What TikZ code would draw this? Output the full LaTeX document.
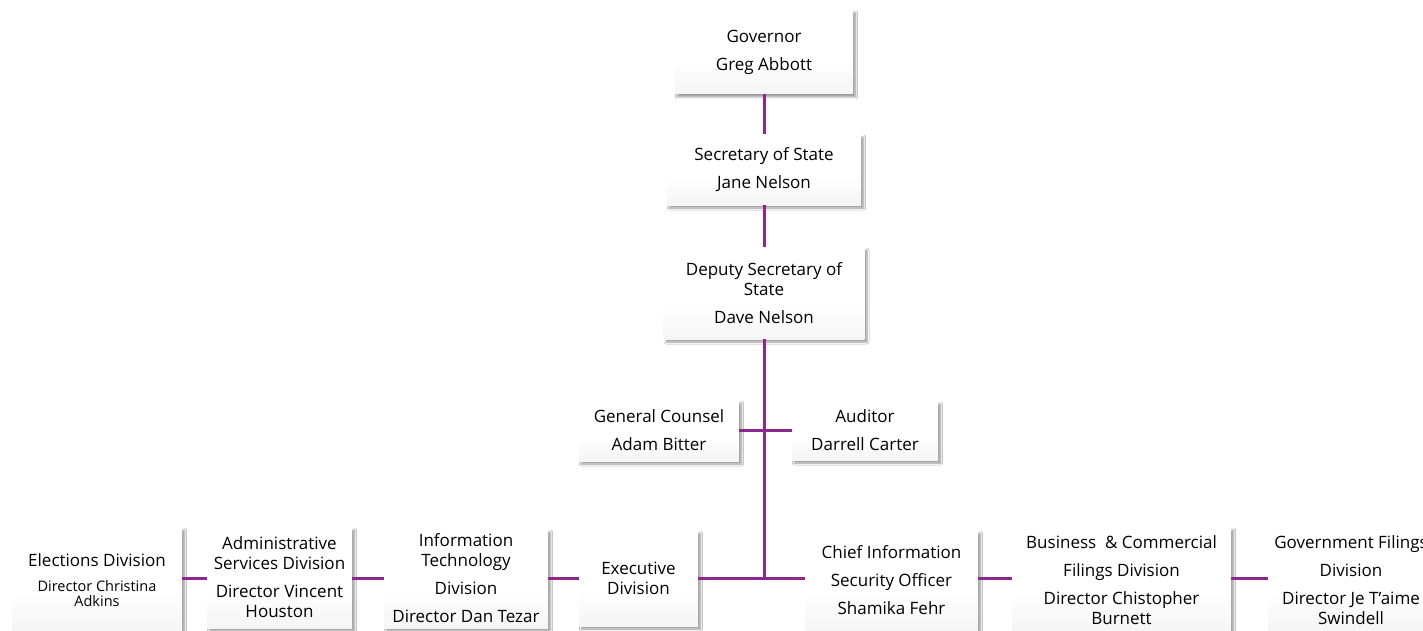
\documentclass[tikz,border=0pt]{standalone}
\usepackage{fontspec}
\setmainfont{Open Sans}
\usetikzlibrary{shadows.blur}
\definecolor{linecol}{RGB}{140,40,140}
\pgfdeclareverticalshading{boxshade}{100bp}{color(0bp)=(black!9); color(45bp)=(white); color(100bp)=(white)}
\tikzset{
  orgbox/.style={draw=none, shading=boxshade, inner sep=0pt, align=center,
    font=\fontsize{17}{20}\selectfont,
    blur shadow={shadow xshift=2.5pt, shadow yshift=-3pt, shadow blur steps=6, shadow opacity=40, shadow blur radius=2pt, shadow blur extra rounding=0pt}},
  smalltext/.style={font=\fontsize{15}{15}\selectfont},
  link/.style={draw=linecol, line width=3pt}
}
\begin{document}
\begin{tikzpicture}[x=1pt,y=-1pt]
\useasboundingbox (0,0) rectangle (1423,631);
\fill[white] (0,0) rectangle (1423,631);
\coordinate (j) at (764,578);
\path (764,52) node[orgbox, minimum width=178pt, minimum height=84pt] (gov) {Governor\\[8pt]Greg Abbott};
\path (764,169.5) node[orgbox, minimum width=194pt, minimum height=71pt] (sec) {Secretary of State\\[8pt]Jane Nelson};
\path (764,293) node[orgbox, minimum width=201pt, minimum height=92pt] (dep) {Deputy Secretary of\\State\\[8pt]Dave Nelson};
\path (659,430.5) node[orgbox, minimum width=160pt, minimum height=61pt] (gc) {General Counsel\\[8pt]Adam Bitter};
\path (865,430.5) node[orgbox, minimum width=146pt, minimum height=59pt] (aud) {Auditor\\[8pt]Darrell Carter};
\path (97,580) node[orgbox, minimum width=170pt, minimum height=106pt] (el) {Elections Division\\[5pt]{\fontsize{14.5}{15}\selectfont Director Christina}\\[-5pt]{\fontsize{14.5}{15}\selectfont Adkins}};
\path (279.5,577.5) node[orgbox, minimum width=145pt, minimum height=101pt] (adm) {Administrative\\Services Division\\[8pt]Director Vincent\\Houston};
\path (466,578.5) node[orgbox, minimum width=164pt, minimum height=99pt] (it) {Information\\Technology\\[8pt]Division\\[8pt]Director Dan Tezar};
\path (638.5,578) node[orgbox, minimum width=119pt, minimum height=96pt] (ex) {Executive\\Division};
\path (891.5,580.5) node[orgbox, minimum width=173pt, minimum height=101pt] (ciso) {Chief Information\\[8pt]Security Officer\\[8pt]Shamika Fehr};
\path (1121.5,580) node[orgbox, minimum width=219pt, minimum height=106pt] (bus) {Business \ \& Commercial\\[8pt]Filings Division\\[8pt]Director Chistopher\\Burnett};
\path (1351,580) node[orgbox, minimum width=166pt, minimum height=106pt] (gf) {Government Filings\\[8pt]Division\\[8pt]Director Je T'aime\\Swindell};
\draw[link] (gov.south) -- (sec.north);
\draw[link] (sec.south) -- (dep.north);
\draw[link] (dep.south) -- (j);
\draw[link] (gc.east) -- (aud.west);
\draw[link] (ex.east |- j) -- (ciso.west |- j);
\draw[link] (el.east |- j) -- (adm.west |- j);
\draw[link] (adm.east |- j) -- (it.west |- j);
\draw[link] (it.east |- j) -- (ex.west |- j);
\draw[link] (ciso.east |- j) -- (bus.west |- j);
\draw[link] (bus.east |- j) -- (gf.west |- j);
\end{tikzpicture}
\end{document}
